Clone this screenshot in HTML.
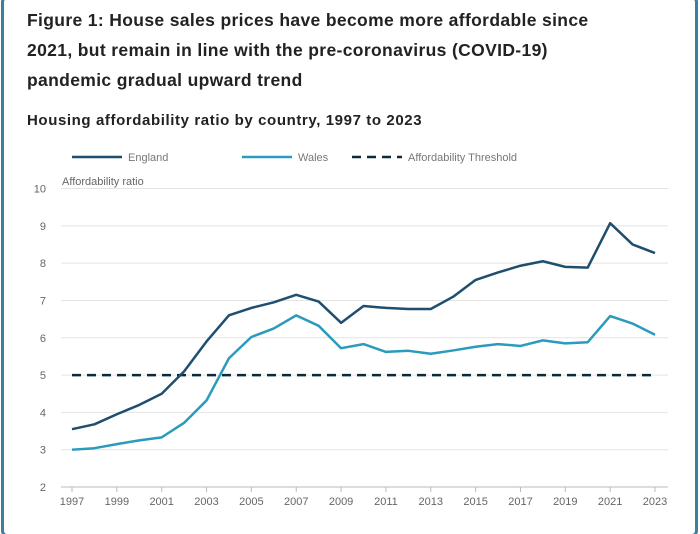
<!DOCTYPE html>
<html><head><meta charset="utf-8"><style>
body{margin:0;background:#fff;font-family:"Liberation Sans",sans-serif;}
#wrap{position:relative;width:700px;height:534px;overflow:hidden;background:#fff;}
.frame{position:absolute;left:1px;top:-4px;width:691px;height:535px;border:3px solid #3f7f99;border-radius:6px;}
h1{position:absolute;left:27px;top:5px;margin:0;font-size:17.5px;line-height:30px;font-weight:bold;color:#222;width:680px;letter-spacing:0.35px;white-space:nowrap;}
h2{position:absolute;left:27px;top:112px;margin:0;font-size:15px;font-weight:bold;color:#222;letter-spacing:0.6px;}
</style></head><body>
<div id="wrap">
<div class="frame"></div>
<h1>Figure 1: House sales prices have become more affordable since<br>2021, but remain in line with the pre-coronavirus (COVID-19)<br>pandemic gradual upward trend</h1>
<h2>Housing affordability ratio by country, 1997 to 2023</h2>
<svg id="chart" width="700" height="534" style="position:absolute;left:0;top:0"></svg>
</div>
<script>
const years=[1997,1998,1999,2000,2001,2002,2003,2004,2005,2006,2007,2008,2009,2010,2011,2012,2013,2014,2015,2016,2017,2018,2019,2020,2021,2022,2023];
const england=[3.55,3.68,3.95,4.2,4.5,5.1,5.9,6.6,6.8,6.95,7.15,6.97,6.4,6.85,6.8,6.77,6.77,7.1,7.55,7.75,7.93,8.05,7.9,7.88,9.07,8.5,8.27];
const wales=[3.0,3.04,3.15,3.25,3.33,3.72,4.32,5.45,6.02,6.25,6.6,6.32,5.72,5.83,5.62,5.65,5.57,5.66,5.76,5.83,5.78,5.93,5.85,5.88,6.58,6.38,6.08];
const threshold=5;
const yTicks=[2,3,4,5,6,7,8,9,10];
const xTicks=[1997,1999,2001,2003,2005,2007,2009,2011,2013,2015,2017,2019,2021,2023];
const NS="http://www.w3.org/2000/svg";
const svg=document.getElementById('chart');
const x=v=>72+(v-1997)*(655-72)/26;
const y=v=>487-(v-2)*(487-188.5)/8;
function el(t,a){const e=document.createElementNS(NS,t);for(const k in a)e.setAttribute(k,a[k]);svg.appendChild(e);return e;}
yTicks.forEach(t=>{
 const g=el('line',{x1:61,x2:668,y1:y(t),y2:y(t),stroke:t===2?'#bbb':'#e4e4e4','stroke-width':1});
 
 
 const l=el('text',{x:46,y:y(t)+4,'text-anchor':'end','font-size':11,fill:'#666'});l.textContent=t;
 
 
});
xTicks.forEach(t=>{
 const k=el('line',{x1:x(t),x2:x(t),y1:487,y2:492,stroke:'#bbb'});
 
 
 const l=el('text',{x:x(t),y:505,'text-anchor':'middle','font-size':11,fill:'#666'});l.textContent=t;
 
 
});
const yt=el('text',{x:62,y:185,'font-size':11,fill:'#666'});yt.textContent='Affordability ratio';


const th=el('line',{x1:x(1997),x2:x(2023),y1:y(threshold),y2:y(threshold),stroke:'#0b2a3a','stroke-width':2.5,'stroke-dasharray':'9,6'});


function line(d,c,n){const p=el('polyline',{points:d.map((v,i)=>x(years[i])+','+y(v)).join(' '),fill:'none',stroke:c,'stroke-width':2.5,'stroke-linejoin':'round'});
 
 }
line(wales,'#2a9bbd','wales-line');
line(england,'#1f4e6e','england-line');
const leg=[[72,'England','#1f4e6e',null],[242,'Wales','#2a9bbd',null],[352,'Affordability Threshold','#0b2a3a','9,6']];
leg.forEach(([lx,t,c,d])=>{
 const a={x1:lx,x2:lx+50,y1:157,y2:157,stroke:c,'stroke-width':2.5};if(d)a['stroke-dasharray']=d;
 const l=el('line',a);
 
 
 const tx=el('text',{x:lx+56,y:161,'font-size':11,fill:'#777'});tx.textContent=t;
 
 
});
</script>
</body></html>
